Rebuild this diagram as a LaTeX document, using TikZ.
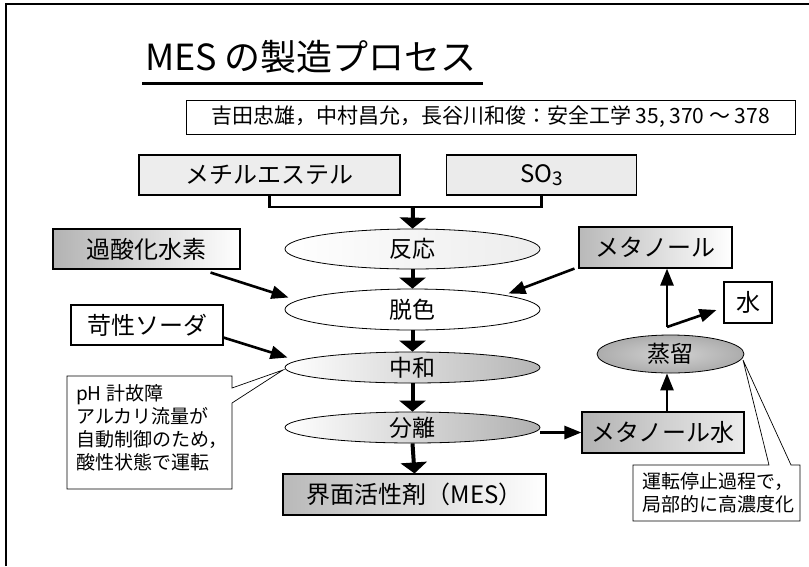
\documentclass[tikz,border=0pt]{standalone}
\usepackage{fontspec}
\setmainfont{Noto Sans CJK JP}
\usetikzlibrary{arrows.meta,shapes.geometric,calc}
\tikzset{
  box/.style={draw, line width=1.1pt, inner sep=0pt, font=\fontsize{24}{24}\selectfont},
  proc/.style={ellipse, draw, line width=0.8pt, inner sep=0pt, minimum width=255pt, font=\fontsize{23}{23}\selectfont},
  flow/.style={line width=4pt, -{Triangle[width=26pt,length=11pt]}},
  feed/.style={line width=2.6pt, -{Triangle[width=13pt,length=17pt]}},
  note/.style={draw, line width=0.7pt, fill=white},
  notetext/.style={align=left, inner sep=0pt, font=\fontsize{19}{23}\selectfont},
}
\begin{document}
\begin{tikzpicture}[x=1pt,y=-1pt]
\useasboundingbox (0,0) rectangle (809,566);
\fill[white] (0,0) rectangle (809,566);
% frame
\draw[line width=1.6pt] (6,566) -- (6,4) -- (809,4);
% title
\node[font=\fontsize{36}{36}\selectfont, inner sep=0pt] (title) at (311,57) {MES の製造プロセス};
\draw[line width=3pt] (142,83) -- (483,83);
\node[box, line width=0.9pt, minimum width=609pt, minimum height=34pt, font=\fontsize{21}{21}\selectfont] (cite) at (490.5,117) {吉田忠雄，中村昌允，長谷川和俊：安全工学 35, 370 ～ 378};
% top inputs
\node[box, fill=gray!14, minimum width=261pt, minimum height=40pt] (me) at (269.5,175) {メチルエステル};
\node[box, fill=gray!16, minimum width=190pt, minimum height=40pt] (so3) at (541.5,175) {SO{\fontsize{19}{19}\selectfont\raisebox{-3pt}{3}}};
\coordinate (j) at (413,207);
\draw[line width=2.4pt] (me.south) |- (j) -| (so3.south);
% process ellipses
\node[proc, minimum height=40pt, left color=white, right color=gray!14, middle color=gray!8] (r) at (412.5,249) {反応};
\node[proc, minimum height=41pt, fill=white] (d) at (412.5,309.5) {脱色};
\node[proc, minimum height=31pt, left color=white, middle color=gray!18, right color=gray!58] (n) at (412.5,367.5) {中和};
\node[proc, minimum height=31pt, left color=white, middle color=gray!22, right color=gray!62] (s) at (412.5,427.5) {分離};
\node[box, minimum width=263pt, minimum height=41pt, left color=gray!55, middle color=gray!22, right color=white] (mes) at (414.5,494.5) {界面活性剤（MES）};
\draw[flow] (j) -- (r.north);
\draw[flow] (r.south) -- (d.north);
\draw[flow] (d.south) -- (n.north);
\draw[flow] (n.south) -- (s.north);
\draw[flow] (s.south) -- (mes.north);
% left inputs
\node[box, minimum width=187pt, minimum height=40pt, left color=gray!60, middle color=gray!20, right color=white] (h2o2) at (146.5,249) {過酸化水素};
\node[box, minimum width=152pt, minimum height=40pt, fill=white] (soda) at (147,325) {苛性ソーダ};
\draw[feed] ($(h2o2.south east)+(-30,3)$) -- ($(d.center)+(-124,-12)$);
\draw[feed] ($(soda.south east)+(0,-8)$) -- ($(n.center)+(-125,-10)$);
% right side
\node[box, minimum width=153pt, minimum height=41pt, left color=gray!55, middle color=gray!10, right color=white] (meth) at (655.5,247.5) {メタノール};
\node[box, minimum width=48pt, minimum height=41pt, fill=white] (water) at (748,302.5) {水};
\node[ellipse, draw, line width=0.8pt, minimum width=147pt, minimum height=38pt, inner sep=0pt, inner color=gray!35, outer color=gray!65, font=\fontsize{23}{23}\selectfont] (dist) at (670.5,354) {蒸留};
\node[box, minimum width=162pt, minimum height=41pt, left color=gray!60, middle color=gray!35, right color=gray!15] (mw) at (663,432.5) {メタノール水};
\draw[feed] ($(meth.south west)+(-4,0)$) -- ($(d.center)+(96,-16)$);
\coordinate (j2) at (667,327);
\draw[feed] (j2) -- (meth.south -| j2);
\draw[feed] (j2) -- ($(water.west)+(-7,7.5)$);
\draw[feed] (mw.north -| j2) -- (dist.south -| j2);
\draw[feed] (s.east |- mw.west) -- (mw.west);
% callouts
\draw[note] (67,376) -- (232,376) -- (232,388) -- (283,370) -- (232,403) -- (232,489) -- (67,489) -- cycle;
\node[notetext, anchor=north west] (ph) at (76,384) {pH 計故障\\アルカリ流量が\\自動制御のため，\\酸性状態で運転};
\draw[note] (633,465) -- (769,465) -- (743,360) -- (791,465) -- (800,465) -- (800,521) -- (633,521) -- cycle;
\node[notetext, anchor=north west] (stop) at (642,472) {運転停止過程で，\\局部的に高濃度化};
\end{tikzpicture}
\end{document}
